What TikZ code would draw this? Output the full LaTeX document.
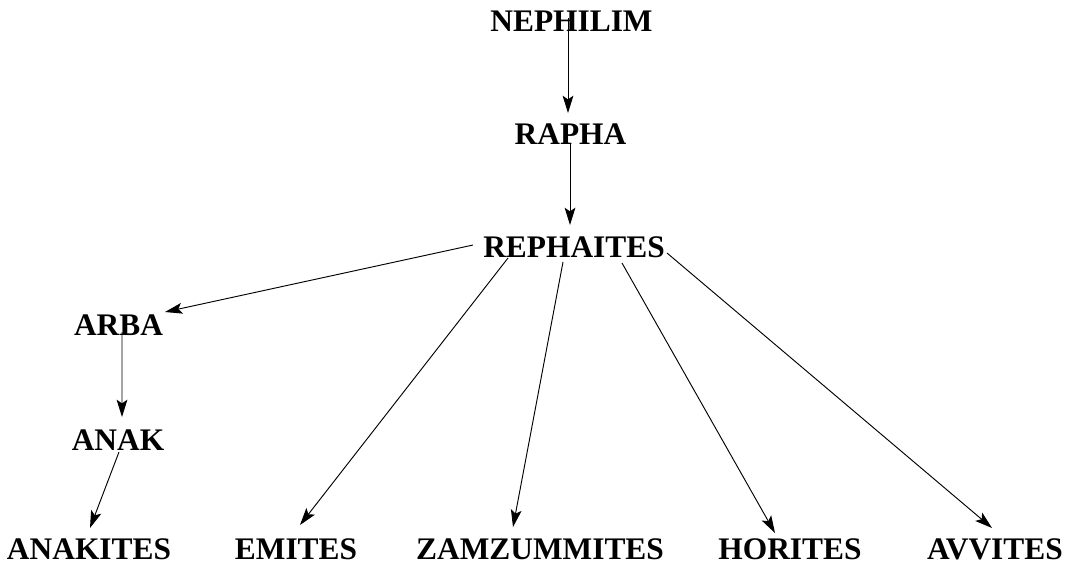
\documentclass[tikz,border=0pt]{standalone}
\usepackage{fontspec}
\setmainfont{Liberation Serif}
\usetikzlibrary{arrows.meta}

\begin{document}
\begin{tikzpicture}[x=0.015cm, y=-0.015cm,
  tribe/.style={inner sep=0pt, font=\fontsize{13.4}{16}\selectfont\bfseries},
  link/.style={draw=black, -{Stealth[length=7.4pt, width=4.6pt, inset=1.6pt]}}]

\useasboundingbox (0,0) rectangle (1070,563);

% top of the line
\node[tribe] (neph) at (571.5,21) {NEPHILIM};
\node[tribe] (rapha) at (570.5,134.5) {RAPHA};
\node[tribe] (reph) at (574,247) {REPHAITES};

% left branch
\node[tribe] (arba) at (118.5,325) {ARBA};
\node[tribe] (anak) at (118,440) {ANAK};

% bottom row
\node[tribe] (anakites) at (89,549) {ANAKITES};
\node[tribe] (emites) at (296,549) {EMITES};
\node[tribe] (zamz) at (540,549) {ZAMZUMMITES};
\node[tribe] (horites) at (790,549) {HORITES};
\node[tribe] (avvites) at (995,549) {AVVITES};

\draw[link] ([shift={(-3.5,-3)}]neph.center) -- ([shift={(-2.5,-21.5)}]rapha.center);
\draw[link] ([shift={(-0.5,9.5)}]rapha.center) -- ([shift={(-4,-22)}]reph.center);
\draw[link] ([shift={(-101,-2)}]reph.center) -- ([shift={(46.5,-13)}]arba.center);
\draw[link] ([shift={(-66,11)}]reph.center) -- ([shift={(4,-24)}]emites.center);
\draw[link] ([shift={(-11,15)}]reph.center) -- ([shift={(-27,-22)}]zamz.center);
\draw[link] ([shift={(48,16)}]reph.center) -- ([shift={(-15,-16)}]horites.center);
\draw[link] ([shift={(93,6)}]reph.center) -- ([shift={(-3,-21)}]avvites.center);
\draw[link] ([shift={(3.5,7)}]arba.center) -- ([shift={(4,-23)}]anak.center);
\draw[link] ([shift={(1,12)}]anak.center) -- ([shift={(1,-21)}]anakites.center);% down to the sons of Anak
\end{tikzpicture}
\end{document}
